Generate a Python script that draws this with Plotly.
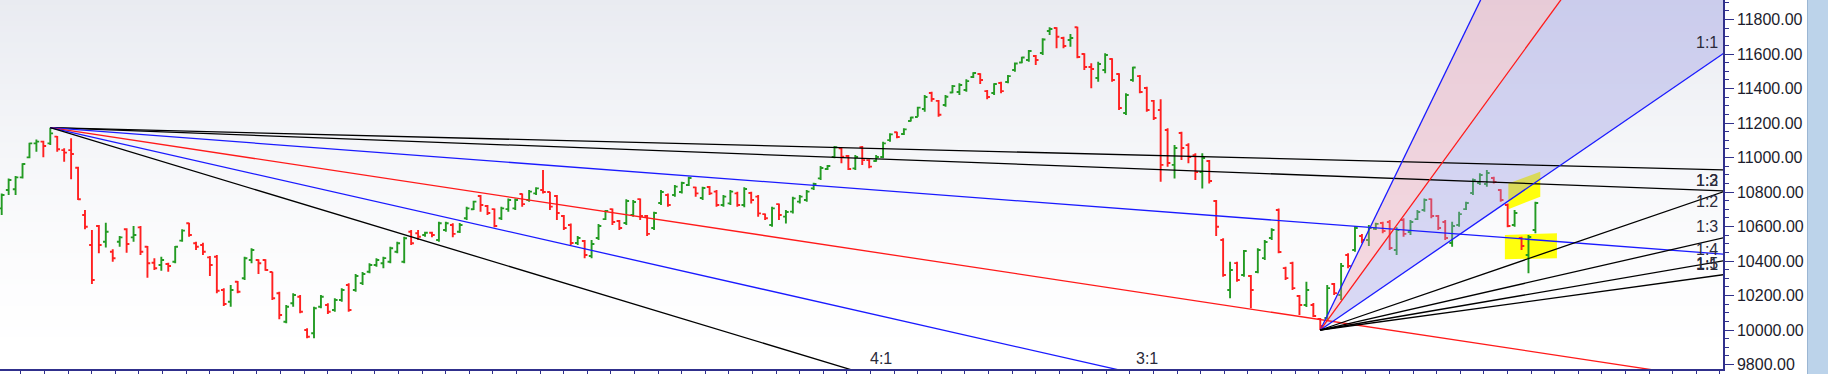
import numpy as np
import plotly.graph_objects as go

# ---------------- data (daily OHLC, x = trading-day index) ----------------
opens = [10705, 10812, 10816, 10885, 11001, 11082, 11092, 11082, 11121, 11043, 11043, 10941, 10667, 10493, 10603, 10512, 10454, 10512, 10584, 10537, 10595, 10483, 10390, 10377, 10383, 10396, 10518, 10619, 10503, 10493, 10421, 10425,
         10232, 10164, 10280, 10300, 10406, 10406, 10406, 10336, 10213, 10048, 10155, 10193, 10000, 9981, 10135, 10145, 10116, 10174, 10261, 10232, 10272, 10338, 10377, 10387, 10396, 10454, 10396, 10570, 10561, 10551, 10564, 10522, 10580, 10609, 10570,
         10648, 10700, 10777, 10719, 10701, 10648, 10701, 10705, 10788, 10754, 10792, 10812, 10800, 10777, 10661, 10609, 10504, 10516, 10429, 10533, 10643, 10701, 10632, 10620, 10667, 10759, 10661, 10591, 10736,
         10783, 10783, 10800, 10841, 10827, 10765, 10829, 10802, 10725, 10734, 10792, 10725, 10794, 10773, 10672, 10609, 10730, 10657, 10686, 10744, 10754, 10821, 10879, 10933, 11003, 11053, 11009, 10937, 11059, 10985, 10980, 11003,
         11101, 11146, 11136, 11212, 11235, 11281, 11374, 11328, 11304, 11377, 11380, 11391, 11467, 11484, 11385, 11374, 11432, 11438, 11507, 11551, 11565, 11588, 11606, 11733, 11751, 11693, 11681, 11755, 11600, 11525, 11461, 11507,
         11571, 11484, 11258, 11449, 11472, 11403, 11328, 11275, 11159, 10957, 11142, 11072, 11014, 10916, 10980, 10748, 10522, 10232, 10388, 10319, 10313, 10336, 10417, 10533, 10696, 10359, 10388, 10197, 10145, 10145, 10064,
         10070, 10267, 10203, 10435, 10464, 10545, 10522, 10586, 10620, 10626, 10464, 10638, 10568, 10643, 10696, 10759, 10661, 10626, 10504, 10609, 10701, 10794, 10852, 10846, 10881, 10812, 10725, 10609, 10533, 10435, 10580]
highs = [10792, 10879, 10893, 10966, 11086, 11105, 11097, 11173, 11125, 11053, 11111, 10947, 10696, 10580, 10609, 10622, 10468, 10545, 10590, 10603, 10603, 10487, 10416, 10425, 10390, 10487, 10584, 10622, 10512, 10506, 10429, 10435,
         10242, 10261, 10284, 10425, 10474, 10410, 10410, 10338, 10222, 10145, 10213, 10203, 10010, 10135, 10203, 10155, 10184, 10242, 10271, 10325, 10336, 10387, 10416, 10425, 10483, 10512, 10541, 10580, 10580, 10570, 10570, 10628, 10628, 10619, 10620,
         10715, 10750, 10783, 10725, 10705, 10715, 10763, 10763, 10792, 10812, 10827, 10928, 10802, 10783, 10667, 10618, 10545, 10522, 10522, 10615, 10696, 10705, 10638, 10758, 10754, 10763, 10667, 10686, 10812,
         10792, 10841, 10860, 10889, 10831, 10831, 10835, 10812, 10783, 10812, 10802, 10827, 10802, 10783, 10676, 10715, 10734, 10696, 10773, 10783, 10812, 10854, 10951, 10956, 11067, 11059, 11014, 11014, 11067, 10990, 11014, 11092,
         11140, 11150, 11169, 11236, 11294, 11362, 11381, 11333, 11362, 11420, 11430, 11453, 11494, 11488, 11391, 11430, 11439, 11478, 11550, 11584, 11623, 11594, 11691, 11755, 11755, 11700, 11716, 11758, 11604, 11546, 11555, 11604,
         11575, 11488, 11372, 11526, 11478, 11410, 11333, 11337, 11169, 11072, 11150, 11082, 11024, 11024, 10985, 10754, 10532, 10396, 10396, 10464, 10319, 10474, 10522, 10590, 10705, 10367, 10396, 10203, 10280, 10157, 10070,
         10261, 10272, 10388, 10445, 10603, 10556, 10609, 10622, 10628, 10638, 10595, 10648, 10638, 10696, 10763, 10763, 10667, 10638, 10628, 10686, 10744, 10879, 10908, 10928, 10889, 10816, 10734, 10696, 10541, 10551, 10744]
lows = [10667, 10783, 10783, 10879, 10995, 11034, 11001, 11072, 11034, 10976, 10874, 10754, 10584, 10267, 10445, 10479, 10396, 10483, 10448, 10512, 10435, 10303, 10348, 10344, 10338, 10387, 10512, 10541, 10464, 10435, 10313, 10213,
        10139, 10135, 10213, 10290, 10387, 10325, 10344, 10174, 10062, 10039, 10135, 10097, 9952, 9952, 10126, 10093, 10106, 10164, 10106, 10222, 10261, 10329, 10367, 10358, 10387, 10445, 10387, 10493, 10522, 10541, 10537, 10512, 10570, 10537, 10562,
        10638, 10696, 10686, 10667, 10595, 10638, 10686, 10696, 10715, 10744, 10783, 10792, 10696, 10638, 10580, 10493, 10493, 10416, 10416, 10522, 10638, 10609, 10580, 10609, 10657, 10638, 10545, 10580, 10725,
        10715, 10773, 10792, 10835, 10773, 10754, 10783, 10715, 10715, 10725, 10715, 10711, 10734, 10657, 10638, 10599, 10638, 10618, 10676, 10734, 10744, 10812, 10870, 10928, 10995, 10966, 10928, 10928, 10957, 10937, 10976, 10995,
        11092, 11111, 11130, 11208, 11236, 11265, 11323, 11236, 11294, 11372, 11362, 11381, 11461, 11426, 11337, 11362, 11372, 11430, 11497, 11546, 11555, 11536, 11594, 11710, 11633, 11633, 11642, 11575, 11507, 11401, 11439, 11488,
        11439, 11275, 11246, 11439, 11372, 11265, 11217, 10860, 10947, 10879, 10985, 10966, 10870, 10821, 10850, 10545, 10309, 10184, 10280, 10309, 10126, 10329, 10406, 10522, 10445, 10290, 10232, 10087, 10133, 10075, 10000,
        10058, 10203, 10174, 10358, 10454, 10503, 10487, 10580, 10561, 10464, 10435, 10541, 10551, 10638, 10686, 10648, 10580, 10522, 10483, 10599, 10696, 10783, 10841, 10831, 10850, 10744, 10595, 10599, 10464, 10329, 10561]
closes = [10783, 10870, 10885, 10962, 11082, 11092, 11067, 11140, 11048, 11028, 11020, 10758, 10599, 10290, 10493, 10570, 10416, 10537, 10499, 10551, 10454, 10387, 10358, 10406, 10371, 10483, 10576, 10551, 10483, 10454, 10377, 10228,
          10151, 10232, 10222, 10416, 10464, 10387, 10348, 10184, 10087, 10135, 10203, 10106, 9961, 10126, 10193, 10106, 10174, 10232, 10116, 10313, 10325, 10377, 10406, 10417, 10474, 10503, 10532, 10503, 10541, 10564, 10551, 10619, 10619, 10557, 10609,
          10705, 10744, 10725, 10678, 10603, 10705, 10754, 10754, 10730, 10802, 10821, 10800, 10715, 10678, 10591, 10504, 10533, 10435, 10499, 10603, 10690, 10626, 10591, 10748, 10742, 10661, 10557, 10678, 10800,
          10725, 10831, 10852, 10881, 10792, 10823, 10792, 10725, 10773, 10802, 10725, 10817, 10754, 10676, 10648, 10705, 10667, 10684, 10763, 10773, 10802, 10846, 10939, 10951, 11059, 11005, 10933, 11003, 10985, 10947, 11003, 11082,
          11134, 11119, 11163, 11232, 11289, 11351, 11339, 11248, 11352, 11414, 11420, 11443, 11490, 11449, 11351, 11426, 11385, 11472, 11545, 11580, 11617, 11565, 11684, 11745, 11700, 11646, 11693, 11583, 11525, 11513, 11542, 11594,
          11449, 11287, 11362, 11522, 11380, 11275, 11229, 10957, 10968, 11055, 11055, 11003, 10916, 10997, 10864, 10599, 10319, 10348, 10290, 10458, 10232, 10464, 10510, 10580, 10452, 10301, 10243, 10145, 10232, 10081, 10023,
          10243, 10214, 10371, 10371, 10591, 10522, 10591, 10615, 10574, 10475, 10580, 10557, 10626, 10684, 10754, 10661, 10591, 10533, 10603, 10672, 10736, 10870, 10899, 10910, 10858, 10754, 10603, 10678, 10487, 10539, 10736]

price_ticks = [9800, 10000, 10200, 10400, 10600, 10800, 11000, 11200, 11400, 11600, 11800]

# Gann fan 1 (from the January high) and fan 2 (from the October low)
fan1_index = 7
fan1_unit = 3.04            # price per bar for the 1x1 line
fan1_ratios = ["1:3", "1:2", "1:1", "2:1", "3:1", "4:1"]
fan1_colors = ["#000000", "#000000", "#1a1aff", "#ff1a1a", "#1a1aff", "#000000"]

fan2_index = 190
fan2_unit = 27.6
fan2_ratios = ["3:1", "2:1", "1:1", "1:2", "1:3", "1:4", "1:5"]
fan2_colors = ["#1a1aff", "#ff1a1a", "#1a1aff", "#000000", "#000000", "#000000", "#000000"]

# highlighted zones (bar index, price)
highlight1 = [(217.1, 10850), (221.7, 10918), (221.7, 10773), (217.1, 10700)]
highlight2 = [(216.6, 10551), (224.1, 10561), (224.1, 10416), (216.6, 10410)]

# ---------------- figure ----------------
n = min(len(opens), len(highs), len(lows), len(closes))
xs = list(range(n))
X_MIN, X_MAX = -0.245, 248.03
Y_MIN, Y_MAX = 9774, 11913
X_FAR = 262


def ratio_value(r):
    a, b = r.split(":")
    return float(a) / float(b)


fig = go.Figure()
shapes = []

# background gradient (light grey-blue at top -> white at bottom)
nb = 70
for k in range(nb):
    t0, t1 = k / nb, (k + 1) / nb
    f = (1 - (t0 + t1) / 2) ** 1.5
    r = int(round(255 - 22 * f)); g = int(round(255 - 20 * f)); b = int(round(255 - 14 * f))
    shapes.append(dict(type="rect", xref="paper", yref="paper", x0=0, x1=1,
                       y0=1 - t1 - 0.002, y1=1 - t0, fillcolor=f"rgb({r},{g},{b})",
                       line=dict(width=0), layer="below"))

# yellow highlight zones
for poly in (highlight1, highlight2):
    path = "M " + " L ".join(f"{px},{py}" for px, py in poly) + " Z"
    shapes.append(dict(type="path", xref="x", yref="y", path=path,
                       fillcolor="rgba(255,255,0,0.95)", line=dict(width=0), layer="below"))

# right-hand scrollbar strip
shapes.append(dict(type="rect", xref="paper", yref="paper", x0=1807 / 1723, x1=1828 / 1723,
                   y0=-5 / 369, y1=1, fillcolor="#bcd3ea", line=dict(width=0), layer="above"))
shapes.append(dict(type="line", xref="paper", yref="paper", x0=1807.5 / 1723, x1=1807.5 / 1723,
                   y0=-5 / 369, y1=1, line=dict(color="#9bb6d3", width=1), layer="above"))

# fan 2 fills
x2 = fan2_index
p2 = lows[fan2_index]
def fan2_y(r, xv):
    return p2 + ratio_value(r) * fan2_unit * (xv - x2)

fig.add_trace(go.Scatter(x=[x2, X_FAR, X_FAR, x2], y=[p2, fan2_y("3:1", X_FAR), fan2_y("2:1", X_FAR), p2],
                         fill="toself", mode="lines", line=dict(width=0),
                         fillcolor="rgba(228,140,165,0.33)", hoverinfo="skip"))
fig.add_trace(go.Scatter(x=[x2, X_FAR, X_FAR, x2], y=[p2, fan2_y("2:1", X_FAR), fan2_y("1:1", X_FAR), p2],
                         fill="toself", mode="lines", line=dict(width=0),
                         fillcolor="rgba(150,150,228,0.36)", hoverinfo="skip"))

# fan 1 lines
x1 = fan1_index
p1 = highs[fan1_index]
def fan1_y(r, xv):
    return p1 - ratio_value(r) * fan1_unit * (xv - x1)

for r, c in zip(fan1_ratios, fan1_colors):
    fig.add_trace(go.Scatter(x=[x1, X_FAR], y=[p1, fan1_y(r, X_FAR)], mode="lines",
                             line=dict(color=c, width=1.3), hoverinfo="skip"))
for r, c in zip(fan2_ratios, fan2_colors):
    fig.add_trace(go.Scatter(x=[x2, X_FAR], y=[p2, fan2_y(r, X_FAR)], mode="lines",
                             line=dict(color=c, width=1.3), hoverinfo="skip"))

# price bars
fig.add_trace(go.Ohlc(x=xs, open=opens[:n], high=highs[:n], low=lows[:n], close=closes[:n],
                      increasing=dict(line=dict(color="#239b23", width=1.9)),
                      decreasing=dict(line=dict(color="#ff2020", width=1.9)),
                      tickwidth=0.4, hoverinfo="skip"))

# fan labels
annots = []
lab_font = dict(family="Liberation Sans, Arial, sans-serif", size=16, color="#2a2a3a")
for r in ["4:1", "3:1"]:
    x_exit = x1 + (p1 - Y_MIN) / (ratio_value(r) * fan1_unit)
    annots.append(dict(x=x_exit + 4.7, y=Y_MIN + 62, xref="x", yref="y", text=r, showarrow=False,
                       font=lab_font, xanchor="center", yanchor="middle"))
for r in ["1:3", "1:2", "1:1"]:
    annots.append(dict(x=X_MAX - 0.4, y=fan1_y(r, X_MAX) - 60, xref="x", yref="y", text=r,
                       showarrow=False, font=lab_font, xanchor="right", yanchor="middle"))
for r in ["1:1", "1:2", "1:3", "1:4", "1:5"]:
    annots.append(dict(x=X_MAX - 0.4, y=fan2_y(r, X_MAX) + 64, xref="x", yref="y", text=r,
                       showarrow=False, font=lab_font, xanchor="right", yanchor="middle"))

axis_col = "#30308c"
x_ticks = list(np.arange(2.78, X_MAX, 3.4))

fig.update_layout(
    width=1828, height=374,
    margin=dict(l=0, r=105, t=0, b=5, pad=0),
    paper_bgcolor="white", plot_bgcolor="rgba(0,0,0,0)",
    showlegend=False, shapes=shapes, annotations=annots,
    xaxis=dict(range=[X_MIN, X_MAX], showgrid=False, zeroline=False, showline=True,
               linecolor=axis_col, linewidth=1.5, ticks="outside", ticklen=5, tickcolor=axis_col,
               tickvals=x_ticks, showticklabels=False, rangeslider=dict(visible=False), fixedrange=True),
    yaxis=dict(side="right", range=[Y_MIN, Y_MAX], showgrid=False, zeroline=False, showline=True,
               linecolor=axis_col, linewidth=1.5, ticks="outside", ticklen=9, tickcolor=axis_col,
               tickvals=price_ticks, tickformat=".2f",
               tickfont=dict(family="Liberation Sans, Arial, sans-serif", size=16, color="#1c1c2c"),
               minor=dict(ticks="outside", ticklen=4, dtick=50, tickcolor=axis_col),
               fixedrange=True),
)

fig.write_html("out.html")
